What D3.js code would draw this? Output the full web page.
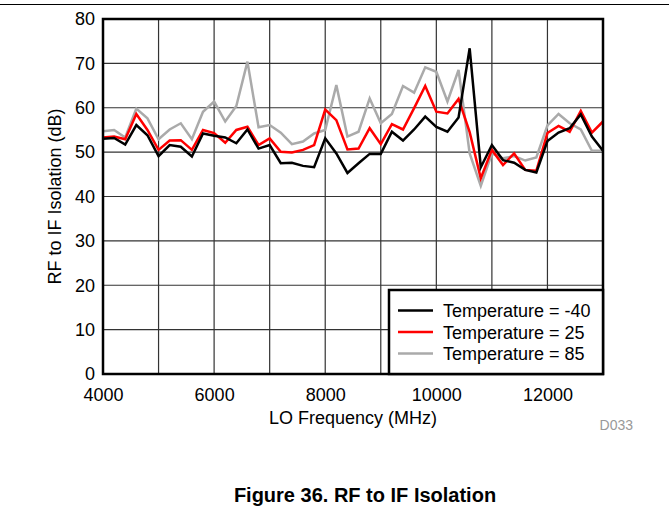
<!DOCTYPE html>
<html><head><meta charset="utf-8">
<script src="https://cdn.jsdelivr.net/npm/d3@7"></script>
<style>
body{margin:0;background:#fff;}
text{font-family:"Liberation Sans",Arial,sans-serif;}
</style></head>
<body><svg id="c" width="669" height="508"></svg>
<script>
const freqStart = 4000, freqStep = 200;
const tempM40 = [53.0,53.2,51.7,56.1,53.8,49.1,51.6,51.2,49.0,54.2,53.7,53.3,52.0,55.1,50.8,51.6,47.5,47.6,46.9,46.6,53.1,49.7,45.3,47.5,49.6,49.6,54.6,52.6,55.1,58.0,55.7,54.6,57.8,73.4,46.6,51.6,48.2,47.6,46.0,45.4,52.5,54.4,55.4,58.5,53.5,50.3];
const temp25 = [53.3,53.5,52.9,58.6,55.0,50.5,52.6,52.7,50.5,55.0,54.3,52.1,55.0,55.7,51.6,53.1,50.1,49.9,50.5,51.6,59.6,57.2,50.6,50.8,55.4,51.8,56.3,55.1,59.9,64.9,59.1,58.7,62.0,54.5,44.1,50.5,47.1,49.7,46.0,45.8,54.3,55.9,54.6,59.3,54.4,56.9];
const temp85 = [54.7,55.0,53.3,59.8,57.6,52.9,55.1,56.5,52.9,59.1,61.4,56.9,60.4,70.4,55.6,56.1,54.4,51.8,52.4,54.2,55.0,65.1,53.5,54.6,62.1,56.5,58.6,64.9,63.4,69.1,68.1,61.4,68.5,49.7,42.4,49.7,48.6,49.1,48.1,48.8,56.0,58.6,56.5,55.1,50.3,50.3];
const seriesNames = ["Temperature = -40","Temperature = 25","Temperature = 85"];
const seriesColors = ["#000000","#ff0000","#aaaaaa"];
const xTicks = [4000,6000,8000,10000,12000];
const xGrid = [4000,5000,6000,7000,8000,9000,10000,11000,12000,13000];
const yTicks = [0,10,20,30,40,50,60,70,80];

const svg = d3.select("#c");
const L=103,R=603,T=19,B=374;
const FS = 18;
const x = d3.scaleLinear().domain([4000,13000]).range([L,R]);
const y = d3.scaleLinear().domain([0,80]).range([B,T]);

svg.append("line").attr("x1",0).attr("x2",669).attr("y1",4.5).attr("y2",4.5).attr("stroke","#000").attr("stroke-width",1);

const g = svg.append("g");
g.selectAll(".vg").data(xGrid).enter().append("line")
 .attr("x1",d=>x(d)).attr("x2",d=>x(d)).attr("y1",T).attr("y2",B)
 .attr("stroke","#333").attr("stroke-width",1.2);
g.selectAll(".hg").data(yTicks).enter().append("line")
 .attr("x1",L).attr("x2",R).attr("y1",d=>y(d)).attr("y2",d=>y(d))
 .attr("stroke","#333").attr("stroke-width",1.2);

const yAxis = d3.axisLeft(y).tickValues(yTicks).tickSize(0).tickPadding(8);
const ya = svg.append("g").attr("transform",`translate(${L},0)`).call(yAxis);
ya.select(".domain").remove();
ya.selectAll("text").attr("font-size",FS).attr("fill","#000").attr("font-family","Liberation Sans, Arial, sans-serif");
const xAxis = d3.axisBottom(x).tickValues(xTicks).tickSize(0).tickPadding(14).tickFormat(d3.format("d"));
const xa = svg.append("g").attr("transform",`translate(0,${B})`).call(xAxis);
xa.select(".domain").remove();
xa.selectAll("text").attr("font-size",FS).attr("fill","#000").attr("font-family","Liberation Sans, Arial, sans-serif");

const allSeries = [temp85,temp25,tempM40];
const cols = [seriesColors[2],seriesColors[1],seriesColors[0]];
const line = d3.line().x((d,i)=>x(freqStart+i*freqStep)).y(d=>y(d));
allSeries.forEach((s,k)=>{
  svg.append("path").datum(s).attr("d",line).attr("fill","none")
   .attr("stroke",cols[k]).attr("stroke-width",2.5).attr("stroke-linejoin","miter");
});

svg.append("rect").attr("x",L).attr("y",T).attr("width",R-L).attr("height",B-T)
 .attr("fill","none").attr("stroke","#000").attr("stroke-width",2.5);

const lg = svg.append("g");
lg.append("rect").attr("x",389).attr("y",290).attr("width",R-389).attr("height",B-290)
 .attr("fill","#fff").attr("stroke","#000").attr("stroke-width",2.5);
seriesNames.forEach((n,i)=>{
  const yy = 310.5 + i*21.5;
  lg.append("line").attr("x1",398).attr("x2",433).attr("y1",yy).attr("y2",yy)
    .attr("stroke",seriesColors[i]).attr("stroke-width",2.5);
  lg.append("text").attr("x",443).attr("y",yy+6.5).attr("font-size",FS).text(n);
});

svg.append("text").attr("x",(L+R)/2).attr("y",424).attr("text-anchor","middle").attr("font-size",FS).text("LO Frequency (MHz)");
svg.append("text").attr("transform",`translate(61,${(T+B)/2}) rotate(-90)`).attr("text-anchor","middle").attr("font-size",FS).text("RF to IF Isolation (dB)");
svg.append("text").attr("x",633).attr("y",430).attr("text-anchor","end").attr("font-size",14).attr("fill","#999").text("D033");
svg.append("text").attr("x",365).attr("y",502).attr("text-anchor","middle").attr("font-size",20).attr("font-weight","bold").text("Figure 36. RF to IF Isolation");
</script></body></html>
